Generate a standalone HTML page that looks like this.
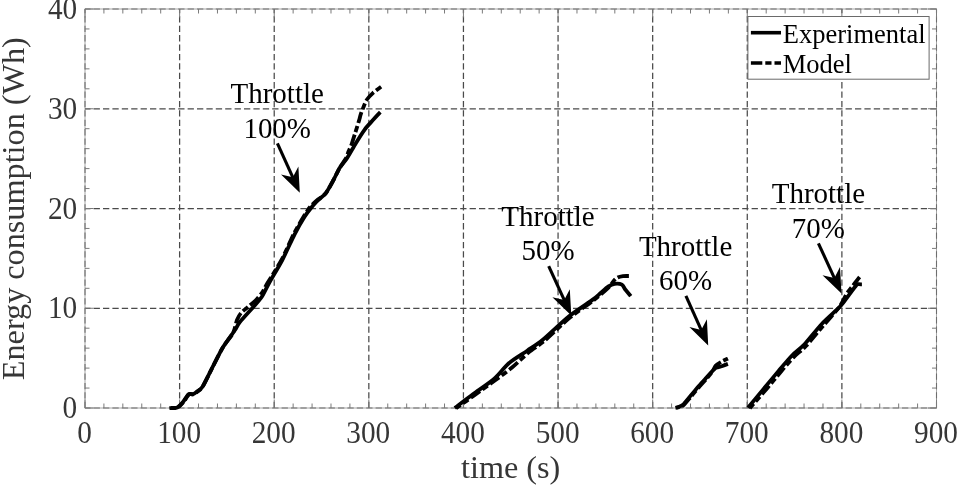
<!DOCTYPE html>
<html lang="en"><head><meta charset="utf-8"><title>Energy consumption vs time</title>
<style>html,body{margin:0;padding:0;background:#fff;}svg{display:block;}text{font-family:"Liberation Serif","DejaVu Serif",serif;}</style></head><body>
<svg width="957" height="486" viewBox="0 0 957 486">
<rect x="0" y="0" width="957" height="486" fill="#fff"/>
<rect x="85.0" y="9.0" width="851.5" height="399.0" fill="none" stroke="#a6a6a6" stroke-width="1"/>
<g stroke="#4a4a4a" stroke-width="1.25" stroke-dasharray="6.3 3.1"><line x1="179.61" y1="408.0" x2="179.61" y2="9.0"/><line x1="274.22" y1="408.0" x2="274.22" y2="9.0"/><line x1="368.83" y1="408.0" x2="368.83" y2="9.0"/><line x1="463.44" y1="408.0" x2="463.44" y2="9.0"/><line x1="558.06" y1="408.0" x2="558.06" y2="9.0"/><line x1="652.67" y1="408.0" x2="652.67" y2="9.0"/><line x1="747.28" y1="408.0" x2="747.28" y2="9.0"/><line x1="841.89" y1="408.0" x2="841.89" y2="9.0"/><line x1="936.5" y1="308.25" x2="85.0" y2="308.25"/><line x1="936.5" y1="208.50" x2="85.0" y2="208.50"/><line x1="936.5" y1="108.75" x2="85.0" y2="108.75"/></g>
<g stroke="#6e6e6e" stroke-width="1.1" stroke-dasharray="6.3 3.1"><line x1="85.00" y1="408.0" x2="85.00" y2="9.0"/><line x1="936.50" y1="408.0" x2="936.50" y2="9.0"/><line x1="936.5" y1="408.00" x2="85.0" y2="408.00"/><line x1="936.5" y1="9.00" x2="85.0" y2="9.00"/></g>
<g stroke="#7a7a7a" stroke-width="1"><line x1="85.00" y1="408.0" x2="85.00" y2="399.5"/><line x1="85.00" y1="9.0" x2="85.00" y2="17.5"/><line x1="103.92" y1="408.0" x2="103.92" y2="403.5"/><line x1="103.92" y1="9.0" x2="103.92" y2="13.5"/><line x1="122.84" y1="408.0" x2="122.84" y2="403.5"/><line x1="122.84" y1="9.0" x2="122.84" y2="13.5"/><line x1="141.77" y1="408.0" x2="141.77" y2="403.5"/><line x1="141.77" y1="9.0" x2="141.77" y2="13.5"/><line x1="160.69" y1="408.0" x2="160.69" y2="403.5"/><line x1="160.69" y1="9.0" x2="160.69" y2="13.5"/><line x1="179.61" y1="408.0" x2="179.61" y2="399.5"/><line x1="179.61" y1="9.0" x2="179.61" y2="17.5"/><line x1="198.53" y1="408.0" x2="198.53" y2="403.5"/><line x1="198.53" y1="9.0" x2="198.53" y2="13.5"/><line x1="217.46" y1="408.0" x2="217.46" y2="403.5"/><line x1="217.46" y1="9.0" x2="217.46" y2="13.5"/><line x1="236.38" y1="408.0" x2="236.38" y2="403.5"/><line x1="236.38" y1="9.0" x2="236.38" y2="13.5"/><line x1="255.30" y1="408.0" x2="255.30" y2="403.5"/><line x1="255.30" y1="9.0" x2="255.30" y2="13.5"/><line x1="274.22" y1="408.0" x2="274.22" y2="399.5"/><line x1="274.22" y1="9.0" x2="274.22" y2="17.5"/><line x1="293.14" y1="408.0" x2="293.14" y2="403.5"/><line x1="293.14" y1="9.0" x2="293.14" y2="13.5"/><line x1="312.07" y1="408.0" x2="312.07" y2="403.5"/><line x1="312.07" y1="9.0" x2="312.07" y2="13.5"/><line x1="330.99" y1="408.0" x2="330.99" y2="403.5"/><line x1="330.99" y1="9.0" x2="330.99" y2="13.5"/><line x1="349.91" y1="408.0" x2="349.91" y2="403.5"/><line x1="349.91" y1="9.0" x2="349.91" y2="13.5"/><line x1="368.83" y1="408.0" x2="368.83" y2="399.5"/><line x1="368.83" y1="9.0" x2="368.83" y2="17.5"/><line x1="387.76" y1="408.0" x2="387.76" y2="403.5"/><line x1="387.76" y1="9.0" x2="387.76" y2="13.5"/><line x1="406.68" y1="408.0" x2="406.68" y2="403.5"/><line x1="406.68" y1="9.0" x2="406.68" y2="13.5"/><line x1="425.60" y1="408.0" x2="425.60" y2="403.5"/><line x1="425.60" y1="9.0" x2="425.60" y2="13.5"/><line x1="444.52" y1="408.0" x2="444.52" y2="403.5"/><line x1="444.52" y1="9.0" x2="444.52" y2="13.5"/><line x1="463.44" y1="408.0" x2="463.44" y2="399.5"/><line x1="463.44" y1="9.0" x2="463.44" y2="17.5"/><line x1="482.37" y1="408.0" x2="482.37" y2="403.5"/><line x1="482.37" y1="9.0" x2="482.37" y2="13.5"/><line x1="501.29" y1="408.0" x2="501.29" y2="403.5"/><line x1="501.29" y1="9.0" x2="501.29" y2="13.5"/><line x1="520.21" y1="408.0" x2="520.21" y2="403.5"/><line x1="520.21" y1="9.0" x2="520.21" y2="13.5"/><line x1="539.13" y1="408.0" x2="539.13" y2="403.5"/><line x1="539.13" y1="9.0" x2="539.13" y2="13.5"/><line x1="558.06" y1="408.0" x2="558.06" y2="399.5"/><line x1="558.06" y1="9.0" x2="558.06" y2="17.5"/><line x1="576.98" y1="408.0" x2="576.98" y2="403.5"/><line x1="576.98" y1="9.0" x2="576.98" y2="13.5"/><line x1="595.90" y1="408.0" x2="595.90" y2="403.5"/><line x1="595.90" y1="9.0" x2="595.90" y2="13.5"/><line x1="614.82" y1="408.0" x2="614.82" y2="403.5"/><line x1="614.82" y1="9.0" x2="614.82" y2="13.5"/><line x1="633.74" y1="408.0" x2="633.74" y2="403.5"/><line x1="633.74" y1="9.0" x2="633.74" y2="13.5"/><line x1="652.67" y1="408.0" x2="652.67" y2="399.5"/><line x1="652.67" y1="9.0" x2="652.67" y2="17.5"/><line x1="671.59" y1="408.0" x2="671.59" y2="403.5"/><line x1="671.59" y1="9.0" x2="671.59" y2="13.5"/><line x1="690.51" y1="408.0" x2="690.51" y2="403.5"/><line x1="690.51" y1="9.0" x2="690.51" y2="13.5"/><line x1="709.43" y1="408.0" x2="709.43" y2="403.5"/><line x1="709.43" y1="9.0" x2="709.43" y2="13.5"/><line x1="728.36" y1="408.0" x2="728.36" y2="403.5"/><line x1="728.36" y1="9.0" x2="728.36" y2="13.5"/><line x1="747.28" y1="408.0" x2="747.28" y2="399.5"/><line x1="747.28" y1="9.0" x2="747.28" y2="17.5"/><line x1="766.20" y1="408.0" x2="766.20" y2="403.5"/><line x1="766.20" y1="9.0" x2="766.20" y2="13.5"/><line x1="785.12" y1="408.0" x2="785.12" y2="403.5"/><line x1="785.12" y1="9.0" x2="785.12" y2="13.5"/><line x1="804.04" y1="408.0" x2="804.04" y2="403.5"/><line x1="804.04" y1="9.0" x2="804.04" y2="13.5"/><line x1="822.97" y1="408.0" x2="822.97" y2="403.5"/><line x1="822.97" y1="9.0" x2="822.97" y2="13.5"/><line x1="841.89" y1="408.0" x2="841.89" y2="399.5"/><line x1="841.89" y1="9.0" x2="841.89" y2="17.5"/><line x1="860.81" y1="408.0" x2="860.81" y2="403.5"/><line x1="860.81" y1="9.0" x2="860.81" y2="13.5"/><line x1="879.73" y1="408.0" x2="879.73" y2="403.5"/><line x1="879.73" y1="9.0" x2="879.73" y2="13.5"/><line x1="898.66" y1="408.0" x2="898.66" y2="403.5"/><line x1="898.66" y1="9.0" x2="898.66" y2="13.5"/><line x1="917.58" y1="408.0" x2="917.58" y2="403.5"/><line x1="917.58" y1="9.0" x2="917.58" y2="13.5"/><line x1="936.50" y1="408.0" x2="936.50" y2="399.5"/><line x1="936.50" y1="9.0" x2="936.50" y2="17.5"/><line x1="85.0" y1="408.00" x2="93.5" y2="408.00"/><line x1="936.5" y1="408.00" x2="928.0" y2="408.00"/><line x1="85.0" y1="388.05" x2="89.5" y2="388.05"/><line x1="936.5" y1="388.05" x2="932.0" y2="388.05"/><line x1="85.0" y1="368.10" x2="89.5" y2="368.10"/><line x1="936.5" y1="368.10" x2="932.0" y2="368.10"/><line x1="85.0" y1="348.15" x2="89.5" y2="348.15"/><line x1="936.5" y1="348.15" x2="932.0" y2="348.15"/><line x1="85.0" y1="328.20" x2="89.5" y2="328.20"/><line x1="936.5" y1="328.20" x2="932.0" y2="328.20"/><line x1="85.0" y1="308.25" x2="93.5" y2="308.25"/><line x1="936.5" y1="308.25" x2="928.0" y2="308.25"/><line x1="85.0" y1="288.30" x2="89.5" y2="288.30"/><line x1="936.5" y1="288.30" x2="932.0" y2="288.30"/><line x1="85.0" y1="268.35" x2="89.5" y2="268.35"/><line x1="936.5" y1="268.35" x2="932.0" y2="268.35"/><line x1="85.0" y1="248.40" x2="89.5" y2="248.40"/><line x1="936.5" y1="248.40" x2="932.0" y2="248.40"/><line x1="85.0" y1="228.45" x2="89.5" y2="228.45"/><line x1="936.5" y1="228.45" x2="932.0" y2="228.45"/><line x1="85.0" y1="208.50" x2="93.5" y2="208.50"/><line x1="936.5" y1="208.50" x2="928.0" y2="208.50"/><line x1="85.0" y1="188.55" x2="89.5" y2="188.55"/><line x1="936.5" y1="188.55" x2="932.0" y2="188.55"/><line x1="85.0" y1="168.60" x2="89.5" y2="168.60"/><line x1="936.5" y1="168.60" x2="932.0" y2="168.60"/><line x1="85.0" y1="148.65" x2="89.5" y2="148.65"/><line x1="936.5" y1="148.65" x2="932.0" y2="148.65"/><line x1="85.0" y1="128.70" x2="89.5" y2="128.70"/><line x1="936.5" y1="128.70" x2="932.0" y2="128.70"/><line x1="85.0" y1="108.75" x2="93.5" y2="108.75"/><line x1="936.5" y1="108.75" x2="928.0" y2="108.75"/><line x1="85.0" y1="88.80" x2="89.5" y2="88.80"/><line x1="936.5" y1="88.80" x2="932.0" y2="88.80"/><line x1="85.0" y1="68.85" x2="89.5" y2="68.85"/><line x1="936.5" y1="68.85" x2="932.0" y2="68.85"/><line x1="85.0" y1="48.90" x2="89.5" y2="48.90"/><line x1="936.5" y1="48.90" x2="932.0" y2="48.90"/><line x1="85.0" y1="28.95" x2="89.5" y2="28.95"/><line x1="936.5" y1="28.95" x2="932.0" y2="28.95"/><line x1="85.0" y1="9.00" x2="93.5" y2="9.00"/><line x1="936.5" y1="9.00" x2="928.0" y2="9.00"/></g>
<g font-size="29.3px" fill="#363636"><text transform="translate(84.5,443.4) scale(1,1.045)" text-anchor="middle">0</text><text transform="translate(179.1,443.4) scale(1,1.045)" text-anchor="middle">100</text><text transform="translate(273.7,443.4) scale(1,1.045)" text-anchor="middle">200</text><text transform="translate(368.3,443.4) scale(1,1.045)" text-anchor="middle">300</text><text transform="translate(462.9,443.4) scale(1,1.045)" text-anchor="middle">400</text><text transform="translate(557.6,443.4) scale(1,1.045)" text-anchor="middle">500</text><text transform="translate(652.2,443.4) scale(1,1.045)" text-anchor="middle">600</text><text transform="translate(746.8,443.4) scale(1,1.045)" text-anchor="middle">700</text><text transform="translate(841.4,443.4) scale(1,1.045)" text-anchor="middle">800</text><text transform="translate(936.0,443.4) scale(1,1.045)" text-anchor="middle">900</text><text transform="translate(77.2,418.0) scale(1,1.045)" text-anchor="end">0</text><text transform="translate(77.2,318.2) scale(1,1.045)" text-anchor="end">10</text><text transform="translate(77.2,218.5) scale(1,1.045)" text-anchor="end">20</text><text transform="translate(77.2,118.8) scale(1,1.045)" text-anchor="end">30</text><text transform="translate(77.2,19.0) scale(1,1.045)" text-anchor="end">40</text></g>
<text x="510.7" y="478.4" text-anchor="middle" font-size="32px" fill="#363636" textLength="99.3" lengthAdjust="spacingAndGlyphs">time (s)</text>
<text transform="translate(23.7,208.7) rotate(-90)" text-anchor="middle" font-size="32px" fill="#363636" textLength="343" lengthAdjust="spacingAndGlyphs">Energy consumption (Wh)</text>
<g fill="none" stroke="#000" stroke-width="3.8" stroke-linejoin="round">
<path d="M169.4,408.2 C170.5,408.1 175.5,408.2 177.3,407.4 C179.1,406.6 181.5,403.8 183.0,402.0 C184.5,400.2 187.3,395.2 188.6,394.2 C189.9,393.2 191.8,394.6 193.0,394.2 C194.2,393.8 196.1,392.3 197.4,391.3 C198.7,390.3 200.7,389.6 202.7,386.5 C204.7,383.4 209.6,372.9 212.3,367.7 C215.0,362.5 219.8,352.5 222.8,347.5 C225.8,342.5 232.8,333.3 235.0,330.0 C237.2,326.7 237.1,325.5 239.5,322.5 C241.9,319.5 249.7,311.1 252.7,307.7 C255.7,304.3 259.5,300.3 261.7,297.0 C263.9,293.7 266.4,287.9 269.1,283.0 C271.8,278.1 278.9,266.5 282.3,260.0 C285.7,253.5 291.7,240.0 294.6,234.3 C297.5,228.6 302.2,220.5 304.4,217.0 C306.6,213.5 309.3,210.1 311.0,208.0 C312.7,205.9 314.8,203.4 316.8,201.4 C318.8,199.4 323.6,196.1 325.8,193.2 C328.0,190.3 331.7,183.3 333.5,180.0 C335.3,176.7 337.8,171.0 339.6,168.1 C341.4,165.2 344.9,161.6 347.0,158.3 C349.1,155.0 353.4,147.3 355.7,143.5 C358.0,139.7 362.3,132.8 364.5,129.8 C366.7,126.8 370.2,123.1 372.3,120.8 C374.4,118.5 379.2,113.3 380.3,112.2"/>
<path d="M454.8,408.0 C457.2,406.2 467.6,398.2 472.9,394.3 C478.2,390.4 489.5,382.9 494.3,378.7 C499.1,374.5 504.7,366.7 509.1,363.0 C513.5,359.3 522.7,353.8 527.2,350.7 C531.7,347.6 536.9,344.6 542.5,340.0 C548.1,335.4 562.7,321.3 569.4,316.0 C576.1,310.7 588.3,302.9 592.4,299.9 C596.5,296.9 598.2,295.1 600.3,293.3 C602.4,291.5 606.6,287.7 608.5,286.4 C610.4,285.1 612.9,284.0 614.7,283.8 C616.5,283.6 620.5,283.9 621.9,284.7 C623.3,285.5 624.3,288.3 625.5,289.8 C626.7,291.3 630.1,295.3 630.8,296.2"/>
<path d="M675.4,407.8 C675.9,407.7 678.0,407.2 679.0,406.8 C680.0,406.4 681.5,406.1 683.1,404.6 C684.7,403.1 688.7,397.9 690.8,395.5 C692.9,393.1 696.5,388.7 698.6,386.3 C700.7,383.9 704.2,380.1 706.3,377.8 C708.4,375.5 712.5,370.8 714.0,369.4 C715.5,368.0 716.5,367.8 717.5,367.4 C718.5,367.0 720.3,366.7 721.7,366.2 C723.1,365.7 727.1,364.2 727.9,363.9"/>
<path d="M748.0,407.8 C750.0,405.3 759.1,394.3 763.2,389.4 C767.3,384.5 774.7,375.5 778.6,370.9 C782.5,366.3 789.0,358.5 792.5,355.0 C796.0,351.5 800.6,348.5 804.5,344.3 C808.4,340.1 817.2,328.8 822.0,323.7 C826.8,318.6 836.8,310.0 840.3,306.3 C843.8,302.6 846.4,298.4 848.5,295.6 C850.6,292.8 855.0,286.8 856.3,285.3 C857.6,283.8 857.8,284.3 858.5,284.2 C859.2,284.1 861.4,284.4 861.9,284.4"/>
</g>
<g fill="none" stroke="#000" stroke-width="3.8" stroke-linejoin="round">
<path d="M381.1,86.7 C380.0,87.5 375.0,91.1 373.1,92.8 C371.2,94.5 368.1,97.9 367.0,99.5 C365.9,101.1 365.3,102.6 364.5,104.5 C363.7,106.4 361.7,111.6 361.0,113.5 C360.3,115.4 360.2,116.5 359.5,119.0 C358.8,121.5 356.5,128.9 355.4,132.3 C354.3,135.7 352.4,142.1 351.5,144.7 C350.6,147.3 349.0,150.2 348.3,152.0 C347.6,153.8 347.2,156.2 346.0,158.3 C344.8,160.4 341.3,165.2 339.6,168.1 C337.9,171.0 335.3,176.7 333.5,180.0 C331.7,183.3 328.0,190.5 325.8,193.2 C323.6,195.9 318.9,198.6 316.8,200.4 C314.7,202.2 311.8,204.8 310.0,207.0 C308.2,209.2 305.6,213.4 303.4,217.0 C301.2,220.6 296.5,228.6 293.6,234.3 C290.7,240.0 285.0,253.5 281.5,260.0 C278.0,266.5 270.0,278.7 267.5,283.0 C265.0,287.3 264.0,289.8 262.5,292.0 C261.0,294.2 258.4,297.5 256.5,299.5 C254.6,301.5 250.4,305.0 248.3,306.8 C246.2,308.6 242.5,311.2 241.0,313.0 C239.5,314.8 238.1,317.3 237.0,320.0 C235.9,322.7 234.9,329.3 233.0,333.0 C231.1,336.7 225.6,342.9 222.8,347.5 C220.0,352.1 215.0,362.5 212.3,367.7 C209.6,372.9 204.6,383.4 202.7,386.5 C200.8,389.6 199.1,390.3 197.9,391.3 C196.7,392.3 194.7,393.8 193.5,394.2 C192.3,394.6 190.4,393.2 189.1,394.2 C187.8,395.2 185.0,400.2 183.5,402.0 C182.0,403.8 179.5,406.6 177.8,407.4 C176.1,408.2 171.9,407.9 171.0,408.0" stroke-dasharray="6.3 3 11.5 3" stroke-dashoffset="0.2"/>
<path d="M628.9,276.0 C628.1,276.0 624.4,275.9 622.9,276.1 C621.4,276.3 618.8,276.9 617.6,277.5 C616.4,278.1 615.5,278.9 614.2,280.3 C612.9,281.7 611.0,285.1 608.2,287.8 C605.4,290.5 598.1,296.9 593.0,300.8 C587.9,304.7 576.7,312.0 570.2,317.3 C563.7,322.6 550.1,336.1 544.5,340.8 C538.9,345.5 532.8,349.0 528.5,352.6 C524.2,356.2 516.4,363.8 512.0,367.5 C507.6,371.2 500.3,376.5 495.2,380.3 C490.1,384.1 479.0,392.0 473.8,395.7 C468.6,399.4 458.4,406.6 456.0,408.3" stroke-dasharray="11.5 3 6.3 3" stroke-dashoffset="0"/>
<path d="M727.9,358.5 C727.1,358.9 723.3,360.7 721.7,361.6 C720.1,362.5 717.0,364.3 715.8,365.6 C714.6,366.9 714.0,369.3 712.8,371.0 C711.6,372.7 708.8,376.1 707.0,378.2 C705.2,380.3 701.4,384.4 699.3,386.8 C697.2,389.2 693.6,393.6 691.5,396.0 C689.4,398.4 685.5,403.4 683.9,404.9 C682.3,406.4 680.8,406.6 679.8,407.0 C678.8,407.4 676.8,407.8 676.3,407.9" stroke-dasharray="6.3 3 11.5 3" stroke-dashoffset="1.3"/>
<path d="M859.6,277.0 C858.7,278.1 854.8,283.2 853.1,285.4 C851.4,287.6 848.5,290.9 846.7,293.7 C844.9,296.5 842.7,302.4 839.6,306.6 C836.5,310.8 828.1,320.0 823.6,325.2 C819.1,330.4 810.1,341.6 806.2,345.8 C802.3,350.0 797.7,353.1 794.2,356.6 C790.7,360.1 784.2,367.8 780.3,372.4 C776.4,377.0 769.1,386.0 765.0,390.8 C760.9,395.6 751.8,405.9 749.8,408.2" stroke-dasharray="11.5 3 6.3 3" stroke-dashoffset="1.0"/>
</g>
<g font-size="29px" fill="#000"><text x="277.2" y="103.1" text-anchor="middle">Throttle</text><text transform="translate(277.2,137.9) scale(1,1.045)" text-anchor="middle">100%</text><text x="548.0" y="225.6" text-anchor="middle">Throttle</text><text transform="translate(548.0,259.6) scale(1,1.045)" text-anchor="middle">50%</text><text x="685.6" y="255.5" text-anchor="middle">Throttle</text><text transform="translate(685.6,289.7) scale(1,1.045)" text-anchor="middle">60%</text><text x="818.4" y="203.4" text-anchor="middle">Throttle</text><text transform="translate(818.4,237.5) scale(1,1.045)" text-anchor="middle">70%</text></g>
<line x1="277.4" y1="143.3" x2="293.6" y2="179.1" stroke="#000" stroke-width="3.1"/><path d="M299.8,192.8 L281.0,174.4 L292.8,177.3 L298.4,166.5 Z" fill="#000"/>
<line x1="548.7" y1="266.1" x2="565.1" y2="301.9" stroke="#000" stroke-width="3.1"/><path d="M571.3,315.5 L552.4,297.2 L564.2,300.0 L569.8,289.2 Z" fill="#000"/>
<line x1="685.9" y1="295.8" x2="702.1" y2="331.8" stroke="#000" stroke-width="3.1"/><path d="M708.2,345.5 L689.4,327.1 L701.2,330.0 L706.9,319.2 Z" fill="#000"/>
<line x1="818.4" y1="243.3" x2="835.2" y2="279.8" stroke="#000" stroke-width="3.1"/><path d="M841.5,293.4 L822.5,275.2 L834.4,278.0 L840.0,267.1 Z" fill="#000"/>
<rect x="747.9" y="16.5" width="181.2" height="62.7" fill="#fff" stroke="#6a6a6a" stroke-width="1"/>
<line x1="750.9" y1="32.7" x2="781" y2="32.7" stroke="#000" stroke-width="3.6"/>
<line x1="750.9" y1="63" x2="781" y2="63" stroke="#000" stroke-width="3.6" stroke-dasharray="11.4 3 6.2 3"/>
<text x="782.8" y="42.6" font-size="26.5px" fill="#000">Experimental</text>
<text x="782.8" y="72.9" font-size="26.5px" fill="#000">Model</text>
</svg></body></html>
